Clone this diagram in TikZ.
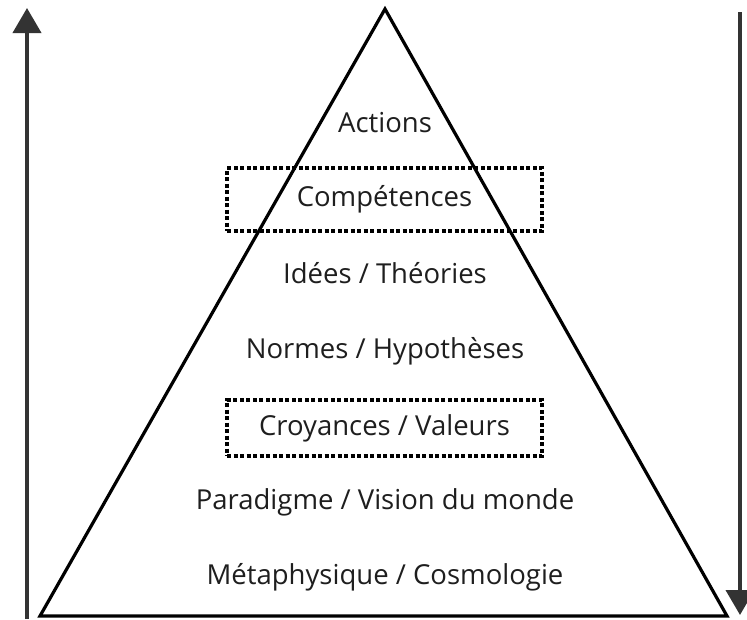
\documentclass[tikz,border=0pt]{standalone}
\usepackage{fontspec}
\setmainfont{Open Sans}
\usetikzlibrary{arrows.meta}
\definecolor{trait}{HTML}{333333}
\definecolor{encre}{HTML}{1E1E1E}
\newcommand{\niveau}[3]{\node[etage] (#1) at (385,#2) {#3}}
\newcommand{\encadre}[4]{\node[cadre=#3] (#1) at (384.5,#2) {#4}}
\tikzset{
  epais/.style={line width=3.2pt},
  etage/.style={text=encre, font=\fontsize{27.5}{32}\selectfont, text height=20pt, text depth=6pt, inner sep=0pt},
  cadre/.style={etage, draw=black, line width=3.5pt, dash pattern=on 4pt off 2.5pt, minimum width=315pt, minimum height=#1},
  fleche/.style={draw=trait, line width=4pt, -{Triangle[width=28pt,length=25pt]}, fill=trait}
}
\begin{document}
\begin{tikzpicture}[x=1pt,y=-1pt]
	\useasboundingbox (0,0) rectangle (747,619);
	% pyramide
	\coordinate (sommet) at (385,9);
	\coordinate (base gauche) at (40,616);
	\coordinate (base droite) at (727,616);
	\draw[epais, line join=miter] (sommet) -- (base droite) -- (base gauche) -- cycle;
	% fleches laterales
	\coordinate (montee bas) at (27,619);
	\coordinate (montee haut) at (27,8);
	\coordinate (descente haut) at (740,12);
	\coordinate (descente bas) at (740,615);
	\draw[fleche] (montee bas) -- (montee haut);
	\draw[fleche] (descente haut) -- (descente bas);
	% niveaux
	\niveau{actions}{125}{Actions};
	\encadre{competences}{199.5}{63pt}{Compétences};
	\niveau{idees}{276}{Idées / Théories};
	\niveau{normes}{351}{Normes / Hypothèses};
	\encadre{croyances}{428}{56pt}{Croyances / Valeurs};
	\niveau{paradigme}{502}{Paradigme / Vision du monde};
	\niveau{metaphysique}{577}{Métaphysique / Cosmologie};
\end{tikzpicture}
\end{document}
